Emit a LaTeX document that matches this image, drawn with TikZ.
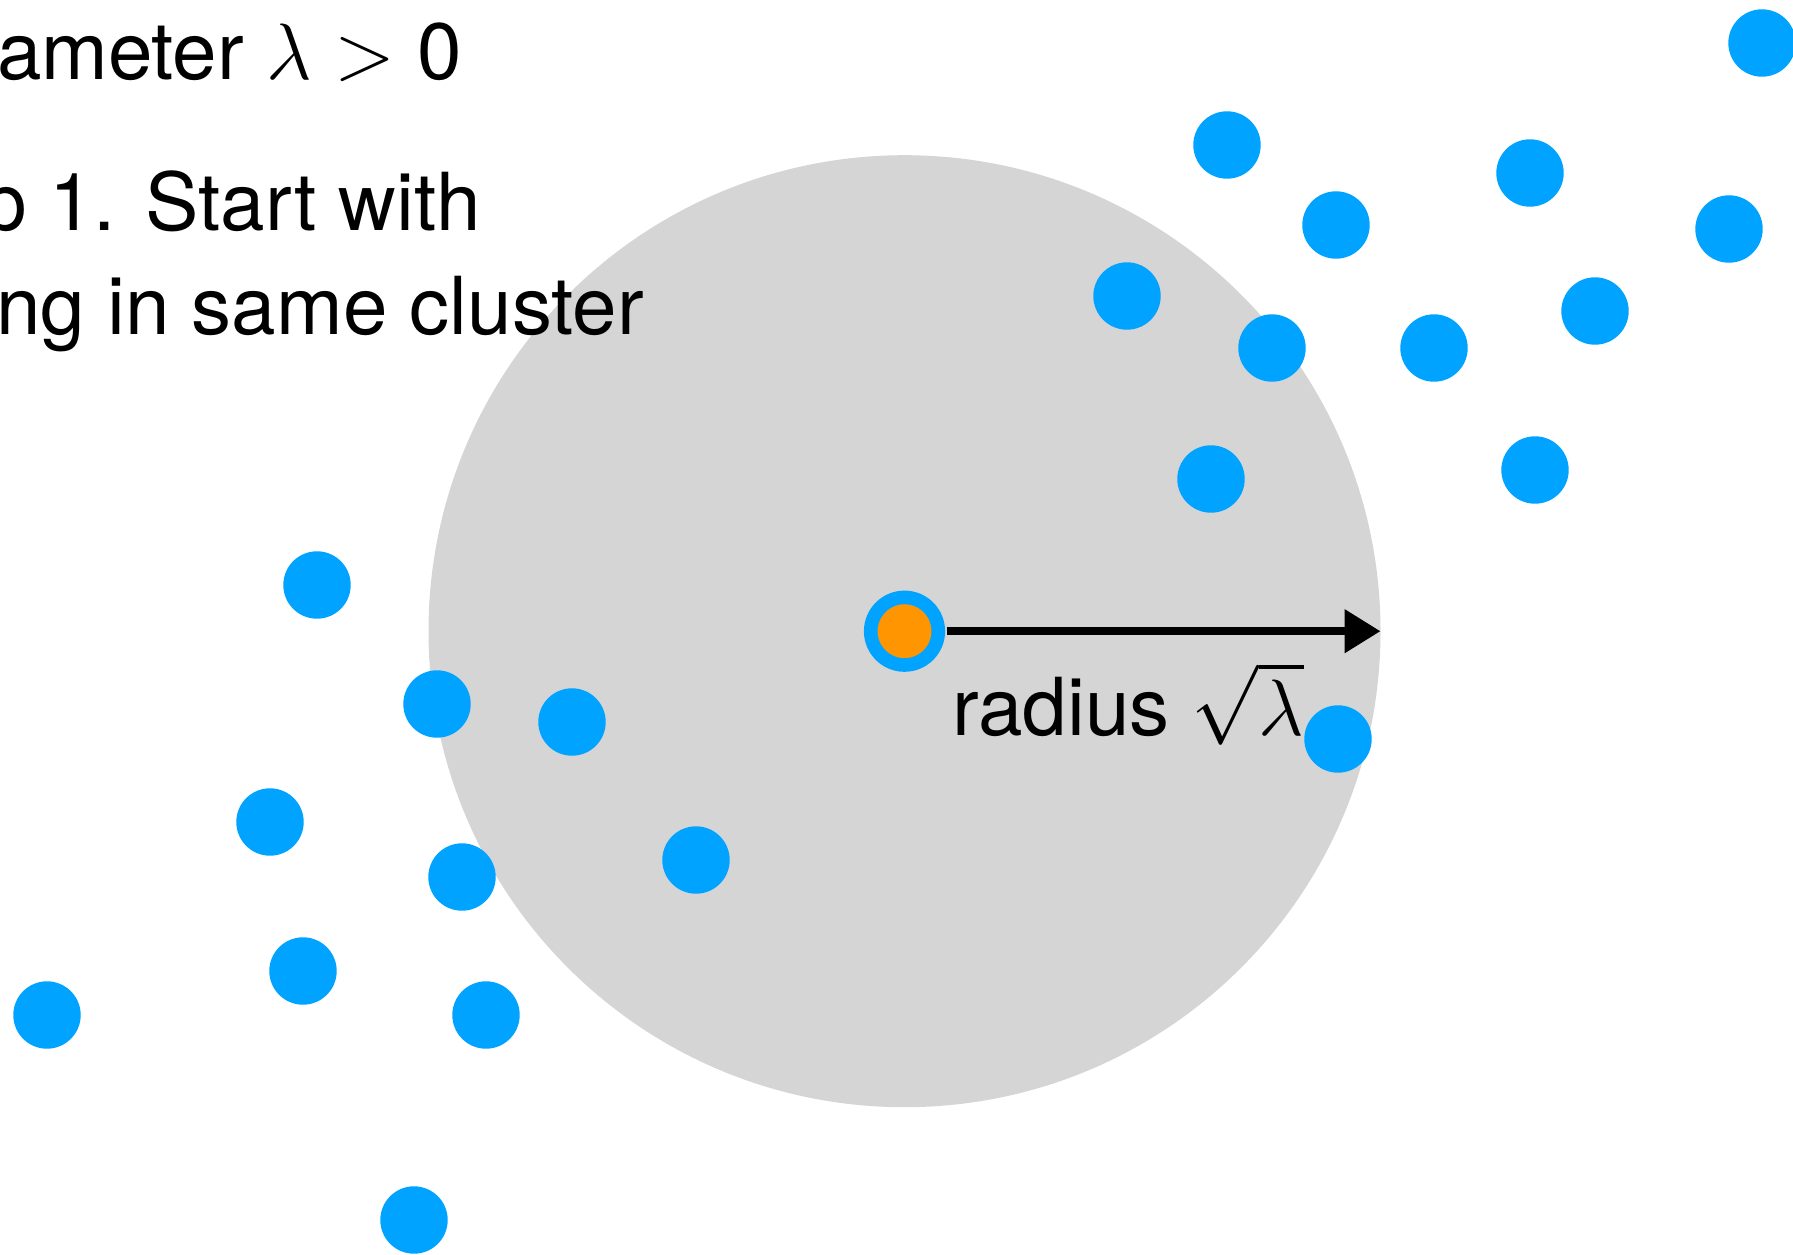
\documentclass[tikz,border=0pt]{standalone}
\usepackage{fix-cm}
\usepackage{fontspec}
\setmainfont{TeX Gyre Heros}
\usepackage{tikz}
\usetikzlibrary{arrows.meta, positioning}
\definecolor{dotblue}{HTML}{00A3FF}
\definecolor{seedorange}{HTML}{FF9500}
\definecolor{ballgray}{HTML}{D5D5D5}
\tikzset{
  bluedot/.style={circle, fill=dotblue, inner sep=0pt, minimum size=67.4pt},
  seeddot/.style={circle, draw=dotblue, line width=13.6pt, fill=seedorange, inner sep=0pt, minimum size=67.6pt},
  bigtext/.style={inner sep=0pt, font=\fontsize{80}{96}\selectfont}
}

\begin{document}
\begin{tikzpicture}[x=1pt, y=-1pt]
    \useasboundingbox (0,0) rectangle (1793,1255);
    \clip (0,0) rectangle (1793,1255);
    % ball of radius sqrt(lambda)
    \fill[ballgray] (904.5,631.2) circle (476);

    % the other points
    \foreach \px/\py [count=\k] in {1762/43, 1227/145, 1530/173, 1336/225, 1729/229,
        1127/296, 1272/348, 1434/348, 1595/311, 1211/479, 1535/470,
        317/585, 437/704, 572/722, 1338/739, 270/822, 462/877, 696/860,
        303/971, 47/1015, 486/1015, 414/1220}
      \node[bluedot] (d\k) at (\px,\py) {};

    % chosen point and radius
    \node[seeddot] (seed) at (904.5,631.2) {};
    \coordinate (rim) at (1380.5,631.2);
    \draw[line width=8pt, shorten <=2pt, -{Triangle[length=36pt, width=42pt]}] (seed.east) -- (rim);
    \node[bigtext, anchor=base west] (rlabel) at (952,735) {radius $\sqrt{\lambda}$};

    % text at top left (cut at the edge)
    \node[bigtext, anchor=base east] (line1) at (462,80) {ameter $\lambda > \mbox{0}$};
    \node[bigtext, anchor=base east] (line2) at (481,230) {p 1. Start with};
    \node[bigtext, anchor=base east] (line3) at (644,334) {ng in same cluster};
\end{tikzpicture}
\end{document}
